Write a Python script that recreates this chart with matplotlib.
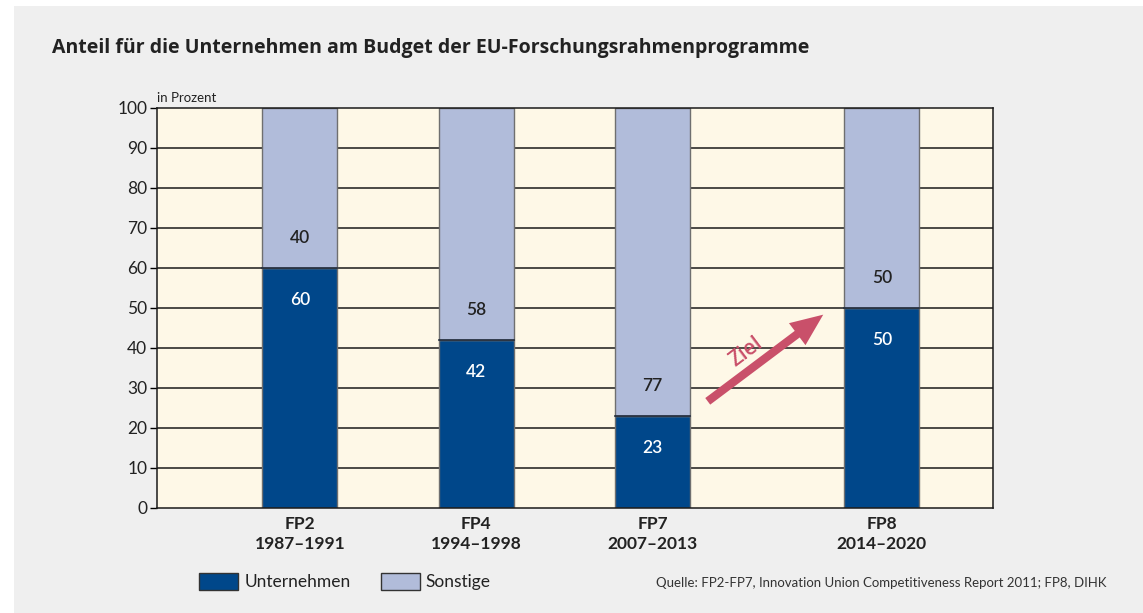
import matplotlib.pyplot as plt
from matplotlib.patches import Rectangle, FancyArrowPatch

# data
programme = ["FP2", "FP4", "FP7", "FP8"]
zeitraum = ["1987–1991", "1994–1998", "2007–2013", "2014–2020"]
unternehmen = [60, 42, 23, 50]
sonstige = [40, 58, 77, 50]
positionen = [0, 1, 2, 3.3]

DUNKEL = "#00478a"
HELL = "#b1bcda"
CREME = "#fef8e7"
GRAU = "#efefef"
ROT = "#c9506a"

plt.rcParams['font.family'] = ['Lato', 'DejaVu Sans']

W, H = 1143, 613
fig = plt.figure(figsize=(W / 100, H / 100), dpi=100, facecolor="white")
fig.patches.append(Rectangle((14 / W, 0), 1 - 14 / W, 1 - 6 / H, transform=fig.transFigure,
                             facecolor=GRAU, edgecolor="none", zorder=-10))

ax = fig.add_axes([157 / W, 105 / H, 836 / W, 400 / H])
ax.set_facecolor(CREME)

# grid lines behind bars
for y in range(10, 100, 10):
    ax.axhline(y, color="#1a1a1a", lw=1.1, zorder=1)

breite = 0.425
ax.bar(positionen, unternehmen, width=breite, color=DUNKEL, edgecolor="#6f6f6f", lw=1, zorder=2,
       label="Unternehmen")
ax.bar(positionen, sonstige, bottom=unternehmen, width=breite, color=HELL, edgecolor="#6f6f6f",
       lw=1, zorder=2, label="Sonstige")
# dark line where the two segments meet
for x, u in zip(positionen, unternehmen):
    ax.plot([x - breite / 2, x + breite / 2], [u, u], color="#1f2a3a", lw=1.2, zorder=3)

for x, u, s in zip(positionen, unternehmen, sonstige):
    ax.text(x, u - 8, f"{u}", ha="center", va="center", color="white", fontsize=12.5,
            fontweight="semibold", zorder=3)
    ax.text(x, u + 7.5, f"{s}", ha="center", va="center", color="#222222", fontsize=12.5,
            fontweight="semibold", zorder=3)

ax.set_xlim(-0.81, 3.93)
ax.set_ylim(0, 100)
ax.set_yticks(range(0, 101, 10))
ax.tick_params(axis="y", length=5, width=1, pad=2, labelsize=12.5, labelcolor="#222222")
ax.set_xticks(positionen)
ax.set_xticklabels([f"{p}\n{z}" for p, z in zip(programme, zeitraum)], fontsize=12.5,
                   fontweight="bold", color="#222222", linespacing=1.25)
ax.tick_params(axis="x", length=0, pad=6)
for sp in ax.spines.values():
    sp.set_color("#1a1a1a")
    sp.set_linewidth(1.1)

# target arrow
pfeil = FancyArrowPatch((2.30, 26.25), (2.98, 48.75),
                        arrowstyle="simple,head_length=1.3,head_width=1.1,tail_width=0.33",
                        mutation_scale=18, color=ROT, zorder=4, lw=0)
ax.add_patch(pfeil)
ax.text(2.53, 39.0, "Ziel", rotation=37, ha="center", va="center", color=ROT, fontsize=15,
        fontweight="semibold", family=["Open Sans", "DejaVu Sans"], zorder=4,
        rotation_mode="anchor")

ax.text(0, 1.01, "in Prozent", transform=ax.transAxes, ha="left", va="bottom", fontsize=9.5,
        color="#222222")

fig.text(52 / W, 1 - 48 / H, "Anteil für die Unternehmen am Budget der EU-Forschungsrahmenprogramme",
         ha="left", va="center", fontsize=14, fontweight="bold", color="#222222",
         family=["Open Sans", "DejaVu Sans"])

# legend
fig.patches.append(Rectangle((199 / W, 1 - 590 / H), 39 / W, 17 / H, transform=fig.transFigure,
                             facecolor=DUNKEL, edgecolor="#333333", lw=1))
fig.text(245 / W, 1 - 582 / H, "Unternehmen", ha="left", va="center", fontsize=12.5, color="#222222")
fig.patches.append(Rectangle((381 / W, 1 - 590 / H), 39 / W, 17 / H, transform=fig.transFigure,
                             facecolor=HELL, edgecolor="#333333", lw=1))
fig.text(425 / W, 1 - 582 / H, "Sonstige", ha="left", va="center", fontsize=12.5, color="#222222")

fig.text(1106 / W, 1 - 583 / H,
         "Quelle: FP2-FP7, Innovation Union Competitiveness Report 2011; FP8, DIHK",
         ha="right", va="center", fontsize=9.5, color="#333333")

fig.savefig("out.png", dpi=100, facecolor=fig.get_facecolor())
